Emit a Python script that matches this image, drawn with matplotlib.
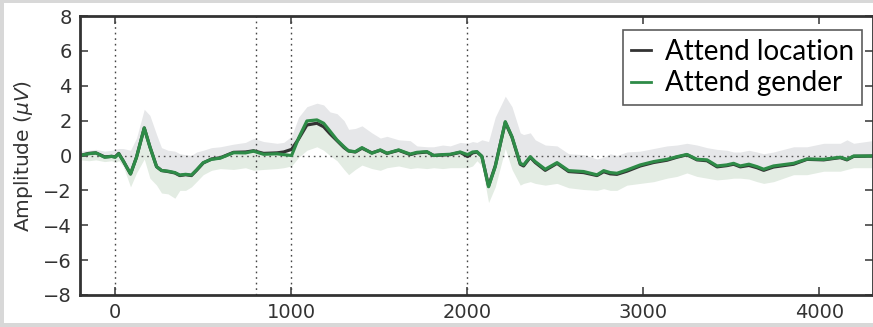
import numpy as np
import matplotlib
matplotlib.use('Agg')
import matplotlib.pyplot as plt
from matplotlib.patches import Rectangle

# time (ms) and mean amplitudes (uV)
t = [-200, -150, -110, -60, -20, 0, 20, 45, 87, 121, 165, 197, 235, 263, 300,
     339, 367, 400, 433, 462, 500, 547, 597, 672, 740, 786, 843, 919, 957,
     1002, 1042, 1089, 1146, 1184, 1220, 1260, 1300, 1326, 1364, 1402, 1458,
     1506, 1544, 1610, 1676, 1714, 1771, 1809, 1860, 1903, 1960, 2002, 2030,
     2055, 2083, 2121, 2159, 2216, 2254, 2301, 2320, 2358, 2386, 2443, 2510,
     2576, 2661, 2737, 2775, 2812, 2850, 2907, 2983, 3059, 3135, 3191, 3248,
     3305, 3362, 3419, 3475, 3513, 3551, 3600, 3646, 3684, 3740, 3854, 3930,
     4025, 4119, 4157, 4195, 4300]

gender = [0.0, 0.1, 0.15, -0.1, -0.05, -0.1, 0.1, -0.3, -1.06, -0.1, 1.58,
          0.5, -0.64, -0.86, -0.9, -0.98, -1.12, -1.08, -1.12, -0.83, -0.41,
          -0.22, -0.15, 0.16, 0.15, 0.25, 0.07, 0.1, 0.05, 0.0, 1.0, 1.98,
          2.04, 1.85, 1.4, 0.89, 0.5, 0.26, 0.22, 0.45, 0.13, 0.32, 0.13,
          0.32, 0.08, 0.18, 0.22, 0.0, 0.05, 0.07, 0.2, 0.05, 0.2, 0.22,
          -0.05, -1.79, -0.64, 1.94, 1.08, -0.45, -0.54, -0.07, -0.35, -0.79,
          -0.41, -0.87, -0.92, -1.11, -0.87, -0.98, -1.02, -0.83, -0.54,
          -0.35, -0.22, -0.07, 0.06, -0.22, -0.25, -0.6, -0.54, -0.45, -0.6,
          -0.5, -0.64, -0.79, -0.6, -0.45, -0.2, -0.22, -0.1, -0.22, -0.03,
          -0.03]

location = [0.0, 0.12, 0.15, -0.08, -0.05, -0.08, 0.12, -0.3, -1.06, -0.1,
            1.58, 0.5, -0.64, -0.86, -0.92, -1.0, -1.15, -1.1, -1.15, -0.85,
            -0.43, -0.2, -0.13, 0.18, 0.2, 0.27, 0.12, 0.15, 0.2, 0.35, 0.95,
            1.75, 1.85, 1.65, 1.25, 0.85, 0.45, 0.26, 0.2, 0.42, 0.15, 0.3,
            0.12, 0.3, 0.05, 0.15, 0.2, 0.0, 0.03, 0.05, 0.18, -0.06, 0.15,
            0.2, -0.05, -1.75, -0.6, 1.9, 1.05, -0.5, -0.6, -0.1, -0.4, -0.85,
            -0.45, -0.92, -0.98, -1.15, -0.93, -1.05, -1.08, -0.9, -0.6, -0.4,
            -0.27, -0.1, 0.04, -0.25, -0.3, -0.65, -0.58, -0.5, -0.65, -0.57,
            -0.7, -0.85, -0.66, -0.5, -0.22, -0.25, -0.12, -0.25, -0.05, -0.03]

# upper edge of grey band, lower edge of green band
loc_upper = [0.25, 0.3, 0.35, 0.25, 0.3, 0.35, 0.4, 0.4, 0.3, 1.0, 2.65, 2.3,
             1.2, 0.45, 0.3, 0.25, 0.1, 0.05, 0.0, 0.2, 0.3, 0.45, 0.5, 0.65,
             0.75, 0.98, 0.8, 0.7, 0.75, 1.1, 2.2, 2.8, 3.0, 2.9, 2.5, 2.4,
             2.0, 1.5, 1.55, 1.7, 1.3, 1.0, 1.1, 0.9, 0.85, 0.55, 0.5, 0.5,
             0.6, 0.55, 0.75, 0.7, 0.8, 0.75, 0.9, 0.8, 2.2, 3.4, 2.8, 1.3,
             1.2, 1.3, 0.9, 0.6, 0.55, 0.1, 0.05, -0.2, -0.1, 0.1, 0.0, 0.2,
             0.25, 0.4, 0.55, 0.6, 0.7, 0.6, 0.45, 0.35, 0.3, 0.2, 0.2, 0.3,
             0.2, 0.1, 0.2, 0.5, 0.5, 0.7, 0.7, 0.9, 0.7, 0.85]

gen_lower = [-0.25, -0.3, -0.25, -0.35, -0.3, -0.4, -0.3, -0.6, -1.8, -1.0,
             -0.2, -1.3, -1.7, -2.15, -2.2, -2.45, -2.0, -2.0, -1.8, -1.5,
             -1.1, -0.85, -0.75, -0.8, -0.7, -0.85, -0.8, -0.75, -0.7, -0.6,
             -0.1, 0.3, 0.5, 0.3, 0.0, -0.3, -0.8, -1.1, -0.8, -0.55, -0.75,
             -0.85, -0.7, -0.6, -0.75, -0.7, -0.75, -0.7, -0.75, -0.7, -0.7,
             -0.7, -0.6, -0.3, -0.6, -2.7, -1.8, 0.4, -0.8, -1.7, -1.6, -1.5,
             -1.6, -1.7, -1.6, -1.85, -1.95, -2.0, -1.9, -2.0, -2.0, -1.7,
             -1.6, -1.5, -1.3, -1.2, -1.0, -1.2, -1.3, -1.4, -1.35, -1.3,
             -1.3, -1.35, -1.5, -1.6, -1.5, -1.1, -1.1, -0.9, -0.9, -0.8,
             -0.7, -0.7]

markers = [0, 800, 1000, 2000]
yticks = [-8, -6, -4, -2, 0, 2, 4, 6, 8]
xticks = [0, 1000, 2000, 3000, 4000]

fig = plt.figure(figsize=(8.73, 3.27), dpi=100, facecolor='#d8d8d8')
fig.add_artist(Rectangle((4 / 873., 4 / 327.), 1.0, 1 - 7 / 327.,
                         transform=fig.transFigure, facecolor='white',
                         edgecolor='none', zorder=-1))
ax = fig.add_axes([80 / 873., 1 - 295 / 327., 1 - 80 / 873., 279 / 327.])

ax.fill_between(t, location, loc_upper, color='#e6e7e9', lw=0)
ax.fill_between(t, gen_lower, gender, color='#e3ece3', lw=0)

for m in markers:
    ax.axvline(m, color='#444444', ls=(0, (1.2, 2.8)), lw=1)
ax.axhline(0, color='#555555', ls=(0, (1.2, 2.8)), lw=1)

ax.plot(t, location, color='#333333', lw=2.3, label='Attend location')
ax.plot(t, gender, color='#2e8b47', lw=2.3, label='Attend gender')

ax.set_xlim(-200, 4305)
ax.set_ylim(-8, 8)
ax.set_xticks(xticks)
ax.set_yticks(yticks)
ax.tick_params(direction='in', length=6, width=1.2, colors='#444444',
               labelsize=14, labelcolor='#333333', top=True, right=True,
               pad=6)
for s in ax.spines.values():
    s.set_color('#333333')
    s.set_linewidth(2)

ax.set_ylabel(r'Amplitude ($\mu V$)', fontsize=14.5, color='#333333',
              labelpad=6)

leg = ax.legend(loc='upper right', bbox_to_anchor=(0.997, 0.978),
                prop={'family': 'Lato', 'size': 20}, fancybox=False,
                handlelength=0.7, handletextpad=0.5, borderpad=0.3,
                labelspacing=0.2, borderaxespad=0.3)
leg.get_frame().set_edgecolor('#333333')
leg.get_frame().set_linewidth(1.2)
for line in leg.get_lines():
    line.set_linewidth(2)

fig.savefig('out.png', dpi=100, facecolor=fig.get_facecolor())
